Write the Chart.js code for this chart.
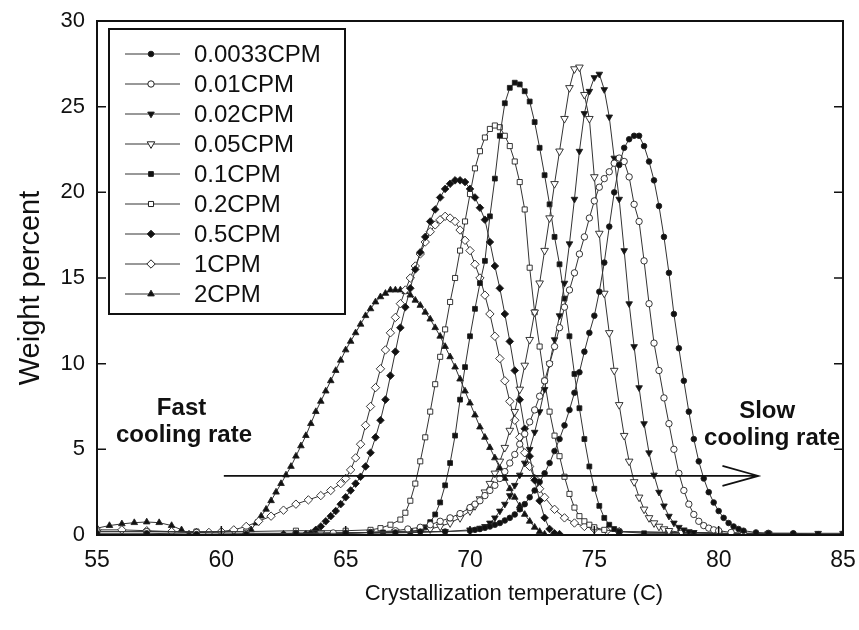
<!DOCTYPE html>
<html><head><meta charset="utf-8">
<script src="https://cdn.jsdelivr.net/npm/chart.js@4.4.1/dist/chart.umd.min.js"></script>
<style>html,body{margin:0;padding:0;background:#fff}#wrap{width:859px;height:630px}</style>
</head><body><div id="wrap"><canvas id="c" width="859" height="630"></canvas></div>
<script>
// ---- data (temperature C, weight percent) ----
const seriesNames = ["0.0033CPM","0.01CPM","0.02CPM","0.05CPM","0.1CPM","0.2CPM","0.5CPM","1CPM","2CPM"];
const xTicks = [55,60,65,70,75,80,85];
const yTicks = [0,5,10,15,20,25,30];
const xTitle = "Crystallization temperature (C)";
const yTitle = "Weight percent";

const s0033 = [[55,0.1],[57,0.1],[59,0.05],[61,0.05],[63,0.1],[65,0.1],[66,0.15],[67,0.15],[68,0.2],[69,0.2],
 [70.0,0.25],[70.2,0.3],[70.4,0.35],[70.6,0.42],[70.8,0.5],[71.0,0.6],[71.2,0.7],[71.4,0.85],[71.6,1.0],[71.8,1.2],
 [72.0,1.5],[72.2,1.8],[72.4,2.2],[72.6,2.6],[72.8,3.1],[73.0,3.6],[73.2,4.2],[73.4,4.9],[73.6,5.6],[73.8,6.4],
 [74.0,7.3],[74.2,8.3],[74.4,9.5],[74.6,10.7],[74.8,11.8],[75.0,12.8],[75.2,14.2],[75.4,15.9],[75.6,18.0],[75.8,20.0],
 [76.0,21.6],[76.2,22.6],[76.4,23.1],[76.6,23.3],[76.8,23.3],[77.0,22.7],[77.2,21.8],[77.4,20.7],[77.6,19.2],[77.8,17.4],
 [78.0,15.3],[78.2,12.9],[78.4,10.9],[78.6,9.0],[78.8,7.2],[79.0,5.6],[79.2,4.3],[79.4,3.3],[79.6,2.5],[79.8,1.9],
 [80.0,1.4],[80.2,1.0],[80.4,0.7],[80.6,0.5],[80.8,0.35],[81.0,0.25],[81.5,0.15],[82,0.1],[83,0.1],[84,0.05],[85,0.05]];

const s001 = [[55,0.2],[57,0.2],[59,0.15],[61,0.1],[63,0.1],[64.5,0.12],[66.0,0.15],[67.0,0.25],[67.5,0.35],[68.0,0.45],
 [68.4,0.6],[68.8,0.8],[69.2,1.0],[69.6,1.25],[70.0,1.6],[70.2,1.8],[70.4,2.0],[70.6,2.3],[70.8,2.6],[71.0,2.9],
 [71.2,3.3],[71.4,3.7],[71.6,4.2],[71.8,4.7],[72.0,5.3],[72.2,5.9],[72.4,6.6],[72.6,7.3],[72.8,8.1],[73.0,9.0],
 [73.2,10.0],[73.4,11.0],[73.6,12.1],[73.8,13.3],[74.0,14.3],[74.2,15.3],[74.4,16.4],[74.6,17.4],[74.8,18.5],[75.0,19.5],
 [75.2,20.3],[75.4,20.8],[75.6,21.2],[75.8,21.7],[76.0,22.0],[76.2,21.8],[76.4,20.9],[76.6,19.3],[76.8,18.3],[77.0,16.0],
 [77.2,13.5],[77.4,11.2],[77.6,9.6],[77.8,8.0],[78.0,6.5],[78.2,5.0],[78.4,3.6],[78.6,2.6],[78.8,1.8],[79.0,1.2],
 [79.2,0.8],[79.4,0.55],[79.6,0.4],[79.8,0.3],[80.0,0.25],[80.5,0.15],[81,0.1],[82,0.1],[83,0.05],[85,0.05]];

const s002 = [[66,0.1],[68,0.15],[69,0.2],[70.0,0.3],[70.4,0.4],[70.6,0.5],[70.8,0.7],[71.0,1.0],[71.2,1.4],[71.4,1.8],
 [71.6,2.3],[71.8,2.9],[72.0,3.5],[72.2,4.2],[72.4,5.0],[72.6,6.0],[72.8,7.2],[73.0,8.5],[73.2,10.0],[73.4,11.4],
 [73.6,12.8],[73.8,14.7],[74.0,17.0],[74.2,19.6],[74.4,22.4],[74.6,24.6],[74.8,25.9],[75.0,26.7],[75.2,26.9],[75.4,26.0],
 [75.6,24.4],[75.8,22.0],[76.0,19.6],[76.2,16.6],[76.4,13.5],[76.6,11.0],[76.8,8.6],[77.0,6.5],[77.2,4.8],[77.4,3.5],
 [77.6,2.5],[77.8,1.7],[78.0,1.1],[78.2,0.7],[78.4,0.45],[78.6,0.3],[78.8,0.2],[79.0,0.15],[80,0.1],[82,0.1],[84,0.1],[85,0.1]];

const s005 = [[64,0.1],[66,0.15],[67,0.2],[68.0,0.25],[68.4,0.35],[68.8,0.5],[69.2,0.7],[69.6,1.0],[70.0,1.4],[70.2,1.7],
 [70.4,2.1],[70.6,2.5],[70.8,3.0],[71.0,3.6],[71.2,4.3],[71.4,5.1],[71.6,6.1],[71.8,7.2],[72.0,8.5],[72.2,9.9],
 [72.4,11.4],[72.6,13.0],[72.8,14.7],[73.0,16.6],[73.2,18.5],[73.4,20.5],[73.6,22.4],[73.8,24.3],[74.0,26.1],[74.2,27.2],
 [74.4,27.3],[74.6,25.7],[74.8,24.3],[75.0,20.9],[75.2,17.6],[75.4,14.1],[75.6,11.8],[75.8,9.6],[76.0,7.6],[76.2,5.8],
 [76.4,4.3],[76.6,3.1],[76.8,2.2],[77.0,1.5],[77.2,1.0],[77.4,0.7],[77.6,0.5],[77.8,0.35],[78.0,0.25],[78.5,0.15],[80,0.1],[82,0.05]];

const s01 = [[63,0.1],[65,0.1],[66.5,0.15],[67.6,0.2],[68.0,0.3],[68.2,0.45],[68.4,0.75],[68.6,1.2],[68.8,1.9],[69.0,2.9],
 [69.2,4.2],[69.4,5.8],[69.6,7.9],[69.8,9.8],[70.0,11.6],[70.2,13.2],[70.4,14.7],[70.6,16.0],[70.8,18.6],[71.0,20.8],
 [71.2,23.3],[71.4,25.2],[71.6,26.1],[71.8,26.4],[72.0,26.3],[72.2,25.9],[72.4,25.3],[72.6,24.1],[72.8,22.6],[73.0,21.0],
 [73.2,19.3],[73.4,17.4],[73.6,15.8],[73.8,13.8],[74.0,11.6],[74.2,9.4],[74.4,7.4],[74.6,5.6],[74.8,4.0],[75.0,2.7],
 [75.2,1.7],[75.4,1.0],[75.6,0.6],[75.8,0.35],[76.0,0.2],[77,0.1],[79,0.1]];

const s02 = [[57,0.2],[59,0.2],[61,0.2],[63,0.25],[65.0,0.25],[66.0,0.3],[66.4,0.4],[66.8,0.6],[67.2,0.9],[67.4,1.3],
 [67.6,2.0],[67.8,3.0],[68.0,4.3],[68.2,5.7],[68.4,7.2],[68.6,8.8],[68.8,10.4],[69.0,12.0],[69.2,13.6],[69.4,15.0],
 [69.6,16.6],[69.8,18.3],[70.0,19.9],[70.2,21.4],[70.4,22.4],[70.6,23.2],[70.8,23.7],[71.0,23.9],[71.2,23.8],[71.4,23.3],
 [71.6,22.7],[71.8,21.8],[72.0,20.6],[72.2,19.0],[72.4,15.6],[72.6,13.0],[72.8,11.0],[73.0,9.0],[73.2,7.2],[73.4,5.8],
 [73.6,4.6],[73.8,3.4],[74.0,2.4],[74.2,1.6],[74.4,1.1],[74.6,0.8],[74.8,0.6],[75.0,0.45],[75.4,0.3],[76,0.2],[78,0.15],[80,0.1]];

const s05 = [[61,0.05],[62.5,0.05],[63.4,0.05],[63.6,0.1],[63.8,0.3],[64.0,0.5],[64.2,0.8],[64.4,1.1],[64.6,1.4],[64.8,1.8],
 [65.0,2.2],[65.2,2.6],[65.4,3.0],[65.6,3.4],[65.8,4.0],[66.0,4.8],[66.2,5.7],[66.4,6.7],[66.6,7.9],[66.8,9.3],
 [67.0,10.7],[67.2,12.1],[67.4,13.3],[67.6,14.4],[67.8,15.5],[68.0,16.5],[68.2,17.4],[68.4,18.3],[68.6,19.0],[68.8,19.7],
 [69.0,20.2],[69.2,20.5],[69.4,20.7],[69.6,20.7],[69.8,20.6],[70.0,20.2],[70.2,19.7],[70.4,19.1],[70.6,18.4],[70.8,17.1],
 [71.0,15.7],[71.2,14.4],[71.4,12.9],[71.6,11.3],[71.8,9.6],[72.0,7.9],[72.2,6.2],[72.4,4.6],[72.6,3.2],[72.8,2.0],
 [73.0,1.0],[73.2,0.35],[73.4,0.1],[73.6,0.05]];

const s1 = [[55,0.3],[56,0.3],[57,0.25],[58,0.2],[59.0,0.15],[59.5,0.15],[60.0,0.2],[60.5,0.3],[61.0,0.5],[61.5,0.8],
 [62.0,1.1],[62.5,1.45],[63.0,1.8],[63.5,2.05],[64.0,2.3],[64.4,2.6],[64.8,3.0],[65.0,3.3],[65.2,3.8],[65.4,4.5],
 [65.6,5.3],[65.8,6.4],[66.0,7.5],[66.2,8.6],[66.4,9.7],[66.6,10.8],[66.8,11.8],[67.0,12.7],[67.2,13.5],[67.4,14.3],
 [67.6,15.0],[67.8,15.7],[68.0,16.4],[68.2,17.1],[68.4,17.7],[68.6,18.1],[68.8,18.4],[69.0,18.6],[69.2,18.5],[69.4,18.3],
 [69.6,17.8],[69.8,17.2],[70.0,16.6],[70.2,15.8],[70.4,15.0],[70.6,14.0],[70.8,12.9],[71.0,11.6],[71.2,10.3],[71.4,9.0],
 [71.6,7.8],[71.8,6.7],[72.0,5.7],[72.2,4.8],[72.4,4.0],[72.6,3.3],[72.8,2.7],[73.0,2.2],[73.4,1.5],[73.8,1.0],
 [74.2,0.7],[74.6,0.5],[75.0,0.35],[75.5,0.25],[76,0.2],[78,0.15],[80,0.1]];

const s2 = [[55,0.4],[55.5,0.55],[56,0.65],[56.5,0.72],[57,0.76],[57.5,0.72],[58,0.55],[58.4,0.3],[58.7,0.05],[59.5,0.0],
 [60.5,0.0],[61.0,0.05],[61.2,0.3],[61.4,0.7],[61.6,1.1],[61.8,1.5],[62.0,2.0],[62.2,2.5],[62.4,3.0],[62.6,3.5],
 [62.8,4.0],[63.0,4.6],[63.2,5.2],[63.4,5.8],[63.6,6.5],[63.8,7.2],[64.0,7.8],[64.2,8.4],[64.4,9.0],[64.6,9.6],
 [64.8,10.2],[65.0,10.8],[65.2,11.3],[65.4,11.8],[65.6,12.3],[65.8,12.8],[66.0,13.2],[66.2,13.6],[66.4,13.9],[66.6,14.1],
 [66.8,14.3],[67.0,14.3],[67.2,14.3],[67.4,14.2],[67.6,14.0],[67.8,13.7],[68.0,13.4],[68.2,13.0],[68.4,12.6],[68.6,12.1],
 [68.8,11.6],[69.0,11.0],[69.2,10.4],[69.4,9.8],[69.6,9.1],[69.8,8.4],[70.0,7.7],[70.2,7.0],[70.4,6.3],[70.6,5.7],
 [70.8,5.1],[71.0,4.5],[71.2,3.9],[71.4,3.3],[71.6,2.7],[71.8,2.2],[72.0,1.7],[72.2,1.2],[72.4,0.8],[72.6,0.45],
 [72.8,0.2],[73.0,0.05]];

const seriesData = [s0033, s001, s002, s005, s01, s02, s05, s1, s2];

// ---- styles ----
const markerStyles = [
  {pointStyle:'circle',   radius:2.8, fill:'#111', rot:0},
  {pointStyle:'circle',   radius:3.2, fill:'#fff', rot:0},
  {pointStyle:'triangle', radius:3.8, fill:'#111', rot:180},
  {pointStyle:'triangle', radius:4.4, fill:'#fff', rot:180},
  {pointStyle:'rect',     radius:3.4, fill:'#111', rot:0},
  {pointStyle:'rect',     radius:3.6, fill:'#fff', rot:0},
  {pointStyle:'rectRot',  radius:3.8, fill:'#111', rot:0},
  {pointStyle:'rectRot',  radius:4.2, fill:'#fff', rot:0},
  {pointStyle:'triangle', radius:3.8, fill:'#111', rot:0}
];

const datasets = seriesNames.map((name, i) => ({
  label: name,
  data: seriesData[i].map(p => ({x:p[0], y:p[1]})),
  showLine: true,
  borderColor: '#333',
  borderWidth: 1,
  pointStyle: markerStyles[i].pointStyle,
  pointRadius: markerStyles[i].radius,
  pointRotation: markerStyles[i].rot,
  pointBackgroundColor: markerStyles[i].fill,
  pointBorderColor: '#222',
  pointBorderWidth: 0.9,
  tension: 0
}));

const FONT = "'Liberation Sans', Arial, sans-serif";

const framePlugin = {
  id: 'frame',
  afterDatasetsDraw(chart) {
    const {ctx, chartArea:a, scales:{x, y}} = chart;
    ctx.save();
    ctx.strokeStyle = '#111';
    ctx.lineWidth = 2;
    ctx.strokeRect(a.left, a.top, a.right - a.left, a.bottom - a.top);
    ctx.lineWidth = 1.5;
    ctx.beginPath();
    yTicks.forEach(v => {
      const py = y.getPixelForValue(v);
      ctx.moveTo(a.left, py); ctx.lineTo(a.left + 9, py);
      ctx.moveTo(a.right, py); ctx.lineTo(a.right - 9, py);
    });
    xTicks.forEach(v => {
      const px = x.getPixelForValue(v);
      ctx.moveTo(px, a.bottom); ctx.lineTo(px, a.bottom - 9);
    });
    ctx.stroke();

    // axis titles
    ctx.fillStyle = '#111';
    ctx.textAlign = 'center';
    ctx.textBaseline = 'alphabetic';
    ctx.font = "22px " + FONT;
    ctx.fillText(xTitle, 514, 600);
    ctx.save();
    ctx.translate(39, 288);
    ctx.rotate(-Math.PI / 2);
    ctx.font = "29px " + FONT;
    ctx.fillText(yTitle, 0, 0);
    ctx.restore();

    // annotation texts and arrow
    ctx.font = "bold 24px " + FONT;
    const txt = (s, tx, ty) => ctx.fillText(s, x.getPixelForValue(tx), y.getPixelForValue(ty));
    txt('Fast', 58.4, 7.0);
    txt('cooling rate', 58.5, 5.4);
    txt('Slow', 81.95, 6.8);
    txt('cooling rate', 82.15, 5.24);
    const ax0 = x.getPixelForValue(60.1), ax1 = x.getPixelForValue(81.6), ay = y.getPixelForValue(3.45);
    ctx.lineWidth = 1.6;
    ctx.beginPath();
    ctx.moveTo(ax0, ay); ctx.lineTo(ax1, ay);
    ctx.moveTo(ax1 - 36, ay - 10); ctx.lineTo(ax1, ay); ctx.lineTo(ax1 - 36, ay + 10);
    ctx.stroke();

    // legend
    const bx = 109, by = 29, bw = 236, bh = 285;
    ctx.fillStyle = '#fff';
    ctx.fillRect(bx, by, bw, bh);
    ctx.lineWidth = 2;
    ctx.strokeStyle = '#111';
    ctx.strokeRect(bx, by, bw, bh);
    ctx.font = "24px " + FONT;
    ctx.textAlign = 'left';
    ctx.textBaseline = 'middle';
    chart.data.datasets.forEach((ds, i) => {
      const ry = 54 + i * 30.0;
      ctx.strokeStyle = '#333';
      ctx.lineWidth = 1;
      ctx.beginPath(); ctx.moveTo(125, ry); ctx.lineTo(180, ry); ctx.stroke();
      ctx.fillStyle = ds.pointBackgroundColor;
      ctx.strokeStyle = '#222';
      Chart.helpers.drawPoint(ctx, {pointStyle: ds.pointStyle, radius: ds.pointRadius, rotation: ds.pointRotation, borderWidth: 0.9}, 151, ry);
      ctx.fillStyle = '#111';
      ctx.fillText(ds.label, 194, ry + 1);
    });
    ctx.restore();
  }
};

new Chart(document.getElementById('c'), {
  type: 'scatter',
  data: { datasets },
  options: {
    responsive: false,
    devicePixelRatio: 1,
    animation: false,
    layout: { padding: { top: 21, right: 16, left: 0, bottom: 0 } },
    plugins: { legend: { display: false }, tooltip: { enabled: false } },
    scales: {
      x: {
        type: 'linear', min: 55, max: 85,
        afterBuildTicks: s => { s.ticks = xTicks.map(v => ({value: v})); },
        afterFit: s => { s.height = 95; s.paddingLeft = 0; s.paddingRight = 0; },
        grid: { display: false, drawTicks: false },
        border: { display: false },
        ticks: { color: '#111', font: { family: FONT, size: 23 }, padding: 12, maxRotation: 0 }
      },
      y: {
        type: 'linear', min: 0, max: 30,
        afterBuildTicks: s => { s.ticks = yTicks.map(v => ({value: v})); },
        afterFit: s => { s.width = 97; s.paddingTop = 0; s.paddingBottom = 0; },
        grid: { display: false, drawTicks: false },
        border: { display: false },
        ticks: { color: '#111', font: { family: FONT, size: 22 }, padding: 12 }
      }
    }
  },
  plugins: [framePlugin]
});
</script>
</body></html>
